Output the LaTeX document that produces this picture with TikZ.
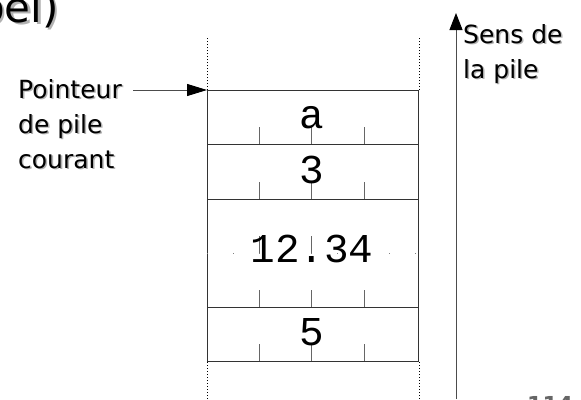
\documentclass[tikz,border=0pt]{standalone}
\usepackage{fontspec}
\setmainfont{DejaVu Sans}
\newfontfamily\cellfont{Liberation Mono}
\usetikzlibrary{arrows.meta}
\begin{document}
\begin{tikzpicture}[x=1pt,y=-1pt,
  cell/.style={draw=black!80, line width=1pt, minimum width=211pt, inner sep=0pt, anchor=north west},
  tick/.style={draw=black!60, line width=1pt},
  guide/.style={draw=black, line width=0.8pt, dash pattern=on 1.2pt off 1.8pt},
  midline/.style={draw=black!50, line width=1pt, dash pattern=on 1pt off 25pt},
  val/.style={font=\cellfont\fontsize{41}{41}\selectfont, anchor=base, inner sep=0pt},
  lbl/.style={font=\fontsize{25}{35}\selectfont, align=left, anchor=north west, inner sep=0pt},
  shadowtxt/.style={text=black!30},
  arrowline/.style={draw=black!70, line width=1pt},
]
\useasboundingbox (0,0) rectangle (581,399);
% partial slide title and page number
\node[font=\fontsize{42}{42}\selectfont, anchor=base east, inner sep=0pt, shadowtxt] (titlesh) at (61.5,24.5) {pel)};
\node[font=\fontsize{42}{42}\selectfont, anchor=base east, inner sep=0pt] (title) at (59,22) {pel)};
\node[font=\bfseries\fontsize{22}{22}\selectfont, text=black!60, anchor=base west, inner sep=0pt] (pagenum) at (527,412) {114};
% stack cells
\node[cell, minimum height=54pt] (c1) at (207,90) {};
\node[cell, minimum height=55pt] (c2) at (207,144) {};
\node[cell, minimum height=108pt] (c3) at (207,199) {};
\node[cell, minimum height=54pt] (c4) at (207,307) {};
% ticks
\foreach \x in {259,311,364}
  \foreach \y in {144,199,253,307,361}
    \draw[tick] (\x,\y) -- ++(0,-17);
\draw[midline] (c3.west) -- (c3.east);
% guides
\draw[guide] (c1.north west) -- ++(0,-52);
\draw[guide] (c1.north east) -- ++(0,-52);
\draw[guide] (c4.south west) -- ++(0,40);
\draw[guide] (c4.south east) -- ++(0,40);
% values
\node[val] (va) at (312,128) {a};
\node[val] (v3) at (312,183) {3};
\node[val] (v1234) at (312,262) {12.34};
\node[val] (v5) at (312,345) {5};
% pointer label
\node[lbl, shadowtxt] (ptrlblsh) at (19.5,80.5) {Pointeur\\de pile\\courant};
\node[lbl] (ptrlbl) at (18,79) {Pointeur\\de pile\\courant};
\coordinate (ptrtail) at (133,90);
\draw[arrowline, -{Triangle[length=20pt,width=12pt,color=black]}] (ptrtail) -- (c1.north west);
% direction
\coordinate (dirbot) at (456,399);
\coordinate (dirtop) at (456,13);
\draw[arrowline, -{Triangle[length=17pt,width=13pt,color=black]}] (dirbot) -- (dirtop);
\node[lbl, shadowtxt] (dirlblsh) at (464.5,25.5) {Sens de\\la pile};
\node[lbl] (dirlbl) at (463,24) {Sens de\\la pile};
\end{tikzpicture}
\end{document}
